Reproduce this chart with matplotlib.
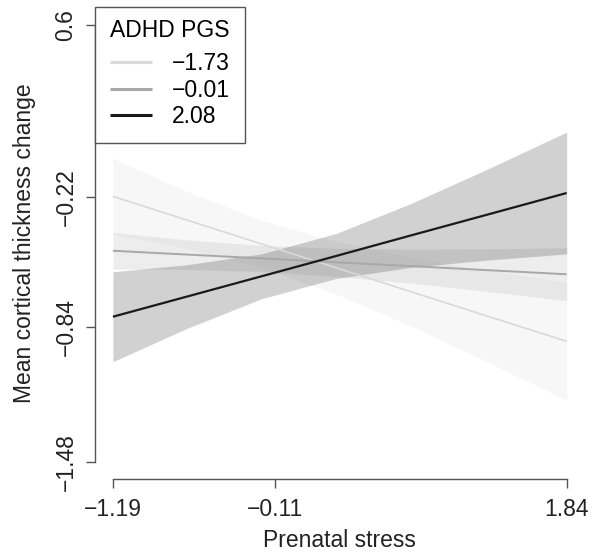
import matplotlib
matplotlib.use("Agg")
import matplotlib.pyplot as plt

plt.rcParams['font.family'] = ['Liberation Sans', 'DejaVu Sans']

# prenatal stress values where the fitted lines / bands were read
stress = [-1.19, -0.7, -0.2, 0.3, 0.8, 1.3, 1.84]

groups = ["\u22121.73", "\u22120.01", "2.08"]  # ADHD PGS levels
colors = ["#d9d9d9", "#a8a8a8", "#1a1a1a"]
widths = [1.2, 1.4, 1.6]

fit_low = [-0.216, -0.328, -0.442, -0.556, -0.670, -0.784, -0.906]
upper_low = [-0.035, -0.192, -0.329, -0.431, -0.506, -0.567, -0.626]
lower_low = [-0.397, -0.464, -0.555, -0.681, -0.834, -1.001, -1.186]

fit_mid = [-0.475, -0.493, -0.511, -0.530, -0.548, -0.567, -0.587]
upper_mid = [-0.388, -0.423, -0.449, -0.464, -0.467, -0.466, -0.461]
lower_mid = [-0.562, -0.564, -0.574, -0.597, -0.629, -0.668, -0.713]

fit_high = [-0.789, -0.694, -0.597, -0.500, -0.402, -0.305, -0.200]
upper_high = [-0.575, -0.542, -0.490, -0.393, -0.250, -0.090, 0.090]
lower_high = [-1.003, -0.846, -0.704, -0.607, -0.554, -0.520, -0.490]

fits = [fit_low, fit_mid, fit_high]
uppers = [upper_low, upper_mid, upper_high]
lowers = [lower_low, lower_mid, lower_high]

xticks = [-1.19, -0.11, 1.84]
yticks = [-1.48, -0.84, -0.22, 0.6]

fs = 16.5

fig = plt.figure(figsize=(5.98, 5.54), dpi=100)
ax = fig.add_axes([0.1585, 0.1348, 0.978 - 0.1585, 0.9865 - 0.1348])

for i in range(3):
    ax.fill_between(stress, lowers[i], uppers[i], color=colors[i], alpha=0.2, linewidth=0)
for i in range(3):
    ax.plot(stress, fits[i], color=colors[i], lw=widths[i], label=groups[i], solid_capstyle="butt")

xpad = (xticks[-1] - xticks[0]) * 0.04
ypad = (yticks[-1] - yticks[0]) * 0.04
ax.set_xlim(xticks[0] - xpad, xticks[-1] + xpad)
ax.set_ylim(yticks[0] - ypad, yticks[-1] + ypad)

ax.set_xticks(xticks)
ax.set_xticklabels([f"{v:.2f}".replace("-", "\u2212") for v in xticks])
ax.set_yticks(yticks)
ax.set_yticklabels([f"{v:g}".replace("-", "\u2212") for v in yticks], rotation=90, va="center")

for s in ["top", "right"]:
    ax.spines[s].set_visible(False)
ax.spines["bottom"].set_bounds(xticks[0], xticks[-1])
ax.spines["left"].set_bounds(yticks[0], yticks[-1])
for s in ["bottom", "left"]:
    ax.spines[s].set_color("#555555")
    ax.spines[s].set_linewidth(1.0)

ax.tick_params(axis="both", length=6.5, width=1.0, color="#555555", labelsize=fs, labelcolor="#222222")
ax.tick_params(axis="x", pad=7)
ax.tick_params(axis="y", pad=6)

ax.set_xlabel("Prenatal stress", fontsize=fs, color="#222222", labelpad=6)
ax.set_ylabel("Mean cortical thickness change", fontsize=fs, color="#222222", labelpad=13)

leg = ax.legend(title="ADHD PGS", loc="upper left", bbox_to_anchor=(0, 1), borderaxespad=0,
                fontsize=fs, title_fontsize=fs, fancybox=False, framealpha=1,
                handlelength=1.85, handletextpad=0.85, labelspacing=0.15, borderpad=0.5)
leg._legend_handle_box.pad = 2.5
leg._legend_box.sep = 5
leg.get_frame().set_edgecolor("#555555")
leg.get_frame().set_linewidth(1.0)
for line in leg.get_lines():
    line.set_linewidth(2.2)

fig.savefig("out.png", dpi=100)
